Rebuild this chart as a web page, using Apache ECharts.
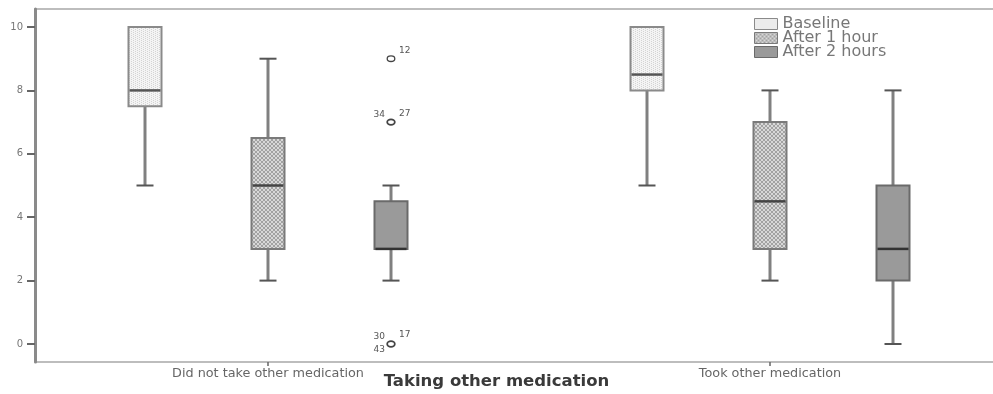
<!DOCTYPE html>
<html><head><meta charset="utf-8">
<script src="https://cdn.jsdelivr.net/npm/echarts@6/dist/echarts.min.js"></script>
<style>html,body{margin:0;padding:0;background:#fff}#c{width:993px;height:394px}</style>
</head><body><div id="c"></div>
<script>
// ---------------- data ----------------
const CATEGORIES = ['Did not take other medication', 'Took other medication'];
const SERIES_NAMES = ['Baseline', 'After 1 hour', 'After 2 hours'];
// [min, Q1, median, Q3, max] for each category
const BASELINE = [[5, 7.5, 8, 10, 10], [5, 8, 8.5, 10, 10]];
const AFTER_1H = [[2, 3, 5, 6.5, 9], [2, 3, 4.5, 7, 8]];
const AFTER_2H = [[2, 3, 3, 4.5, 5], [0, 2, 3, 5, 8]];
// outliers of "After 2 hours", "Did not take other medication"
const OUTLIER_VALUES = [9, 7, 0];
const OUTLIER_CASES = [['12'], ['34', '27'], ['30', '17', '43']];
const Y_TICK_MIN = 0, Y_TICK_MAX = 10, Y_TICK_STEP = 2;
const X_TITLE = 'Taking other medication';

// ---------------- styles ----------------
function makePattern(w, h, bg, fg, pts) {
  const c = document.createElement('canvas');
  c.width = w; c.height = h;
  const g = c.getContext('2d');
  g.fillStyle = bg; g.fillRect(0, 0, w, h);
  g.fillStyle = fg;
  pts.forEach(p => g.fillRect(p[0], p[1], 1, 1));
  return { image: c, repeat: 'repeat' };
}
const PAT_BASE = makePattern(4, 4, '#f4f4f4', '#d4d4d4', [[1, 0], [1, 2], [3, 1], [3, 3]]);
const PAT_HATCH = makePattern(4, 4, '#d8d8d8', '#a2a2a2', [[0, 0], [1, 1], [2, 2], [3, 3], [3, 0], [2, 1], [1, 2], [0, 3]]);
const STYLES = [
  { fill: PAT_BASE, border: '#8a8a8a', median: '#555', offset: -123 },
  { fill: PAT_HATCH, border: '#7a7a7a', median: '#444', offset: 0 },
  { fill: '#9a9a9a', border: '#6a6a6a', median: '#333', offset: 123 }
];
const BOX_W = 33, CAP_W = 17;
const FONT = 'DejaVu Sans';

function boxRenderer(st) {
  return function (params, api) {
    const ci = api.value(0);
    const x = api.coord([ci, 0])[0] + st.offset;
    const py = v => api.coord([ci, v])[1];
    const lo = py(api.value(1)), q1 = py(api.value(2)), md = py(api.value(3)),
          q3 = py(api.value(4)), hi = py(api.value(5));
    const kids = [];
    const wStyle = { stroke: '#808080', lineWidth: 3 };
    const cStyle = { stroke: '#555', lineWidth: 2 };
    if (hi < q3 - 0.5) {
      kids.push({ type: 'line', shape: { x1: x, y1: hi, x2: x, y2: q3 }, style: wStyle });
      kids.push({ type: 'line', shape: { x1: x - CAP_W / 2, y1: hi, x2: x + CAP_W / 2, y2: hi }, style: cStyle });
    }
    if (lo > q1 + 0.5) {
      kids.push({ type: 'line', shape: { x1: x, y1: q1, x2: x, y2: lo }, style: wStyle });
      kids.push({ type: 'line', shape: { x1: x - CAP_W / 2, y1: lo, x2: x + CAP_W / 2, y2: lo }, style: cStyle });
    }
    kids.push({ type: 'rect', shape: { x: x - BOX_W / 2, y: q3, width: BOX_W, height: q1 - q3 },
      style: { fill: st.fill, stroke: st.border, lineWidth: 2 } });
    kids.push({ type: 'line', shape: { x1: x - BOX_W / 2 + 1, y1: md, x2: x + BOX_W / 2 - 1, y2: md },
      style: { stroke: st.median, lineWidth: 2.5 } });
    return { type: 'group', children: kids };
  };
}

const LABEL_SLOTS = {
  1: [{ dx: 8, dy: -8, align: 'left' }],
  2: [{ dx: -6, dy: -7, align: 'right' }, { dx: 8, dy: -8, align: 'left' }],
  3: [{ dx: -6, dy: -7, align: 'right' }, { dx: 8, dy: -9, align: 'left' }, { dx: -6, dy: 6, align: 'right' }]
};

function outlierRenderer(params, api) {
  const ci = api.value(0);
  const p = api.coord([ci, api.value(1)]);
  const x = p[0] + STYLES[2].offset, y = p[1];
  const cases = OUTLIER_CASES[params.dataIndex];
  const slots = LABEL_SLOTS[cases.length];
  const kids = [{ type: 'ellipse', shape: { cx: x, cy: y, rx: 3.8, ry: 2.8 },
    style: { fill: 'transparent', stroke: '#444', lineWidth: cases.length > 1 ? 1.8 : 1.3 } }];
  cases.forEach((c, i) => {
    const s = slots[i];
    kids.push({ type: 'text', x: x + s.dx, y: y + s.dy,
      style: { text: c, fill: '#555', fontSize: 9, fontFamily: FONT, align: s.align, verticalAlign: 'middle' } });
  });
  return { type: 'group', children: kids };
}

const boxData = [BASELINE, AFTER_1H, AFTER_2H].map(arr => arr.map((v, i) => [i].concat(v)));
const Y_MIN = -0.568, Y_MAX = 10.568;

const option = {
  animation: false,
  backgroundColor: '#fff',
  title: {
    text: X_TITLE, left: 'center', top: 373, padding: 0,
    textStyle: { fontFamily: FONT, fontSize: 16.5, fontWeight: 'bold', color: '#3a3a3a' }
  },
  legend: {
    orient: 'vertical', left: 754, top: 16, padding: 0,
    itemWidth: 23, itemHeight: 11, itemGap: -2, icon: 'rect',
    textStyle: { fontFamily: FONT, fontSize: 16, color: '#777', lineHeight: 14 },
    data: SERIES_NAMES.map((n, i) => ({
      name: n,
      itemStyle: { color: STYLES[i].fill, borderColor: STYLES[i].border, borderWidth: 1 }
    }))
  },
  grid: [
    // frame
    { left: 35, width: 970, top: 9, bottom: 32, show: true, borderColor: '#a8a8a8', borderWidth: 1.5,
      backgroundColor: 'transparent', outerBoundsMode: 'none', containLabel: false },
    // boxes
    { left: 17, width: 1004, top: 9, bottom: 32, outerBoundsMode: 'none', containLabel: false },
    // y ticks and labels
    { left: 35, width: 8, top: 27, bottom: 50, outerBoundsMode: 'none', containLabel: false }
  ],
  xAxis: [
    { gridIndex: 0, type: 'value', show: false, min: 0, max: 1 },
    {
      gridIndex: 1, type: 'category', data: CATEGORIES,
      axisLine: { show: false, onZero: false },
      axisTick: { show: true, alignWithLabel: true, length: 4, lineStyle: { color: '#666', width: 1.5 } },
      axisLabel: { fontFamily: FONT, fontSize: 12.8, color: '#666', margin: 5 }
    },
    { gridIndex: 2, type: 'value', show: false, min: 0, max: 1 }
  ],
  yAxis: [
    {
      gridIndex: 0, type: 'value', min: Y_MIN, max: Y_MAX,
      splitLine: { show: false }, axisTick: { show: false }, axisLabel: { show: false },
      axisLine: { show: true, onZero: false, lineStyle: { color: '#8a8a8a', width: 3 } }
    },
    { gridIndex: 1, type: 'value', min: Y_MIN, max: Y_MAX, show: false },
    {
      gridIndex: 2, type: 'value', min: Y_TICK_MIN, max: Y_TICK_MAX, interval: Y_TICK_STEP,
      splitLine: { show: false },
      axisLine: { show: false, onZero: false },
      axisTick: { show: true, length: 8, lineStyle: { color: '#666', width: 2 } },
      axisLabel: { fontFamily: FONT, fontSize: 10, color: '#777', margin: 12 }
    }
  ],
  series: SERIES_NAMES.map((n, i) => ({
    name: n, type: 'custom', xAxisIndex: 1, yAxisIndex: 1,
    itemStyle: { color: STYLES[i].fill, borderColor: STYLES[i].border },
    renderItem: boxRenderer(STYLES[i]),
    encode: { x: 0, y: [1, 2, 3, 4, 5] },
    data: boxData[i]
  })).concat([{
    name: 'outliers', type: 'custom', xAxisIndex: 1, yAxisIndex: 1,
    renderItem: outlierRenderer,
    encode: { x: 0, y: 1 },
    data: OUTLIER_VALUES.map(v => [0, v])
  }])
};

const chart = echarts.init(document.getElementById('c'), null, { renderer: 'canvas' });
chart.setOption(option);
</script>
</body></html>
